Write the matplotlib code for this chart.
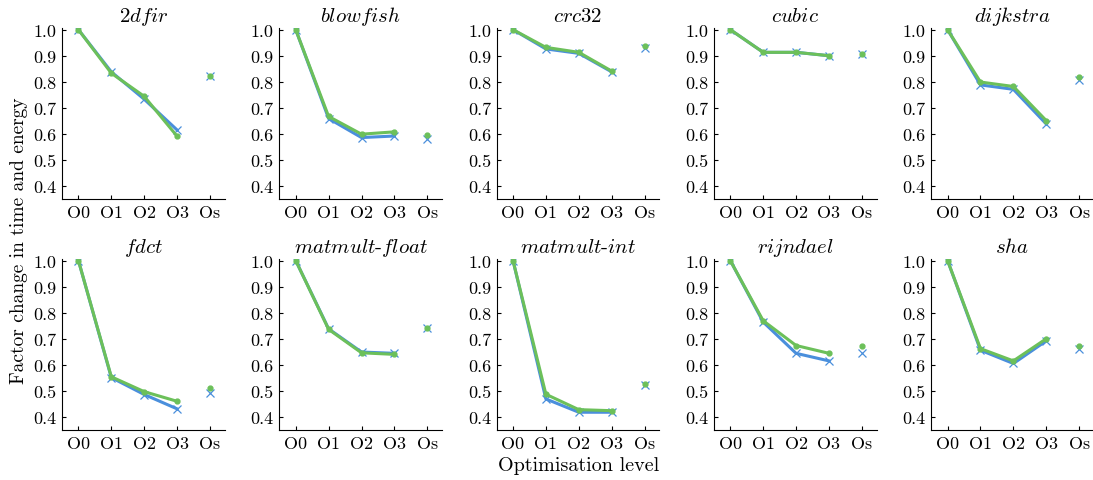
import numpy as np
import matplotlib
matplotlib.use('Agg')
import matplotlib.pyplot as plt

plt.rcParams['font.family'] = 'serif'
plt.rcParams['font.serif'] = ['cmr10', 'DejaVu Serif']
plt.rcParams['mathtext.fontset'] = 'cm'
plt.rcParams['axes.formatter.use_mathtext'] = True

levels = ['O0', 'O1', 'O2', 'O3', 'Os']
benchmarks = ['2dfir', 'blowfish', 'crc32', 'cubic', 'dijkstra',
              'fdct', 'matmult-float', 'matmult-int', 'rijndael', 'sha']

# factor change per level O0, O1, O2, O3, Os
time_vals = [
    [1.0, 0.838, 0.733, 0.615, 0.822],
    [1.0, 0.659, 0.586, 0.592, 0.579],
    [1.0, 0.926, 0.909, 0.838, 0.929],
    [1.0, 0.913, 0.913, 0.900, 0.906],
    [1.0, 0.788, 0.771, 0.638, 0.805],
    [1.0, 0.551, 0.486, 0.431, 0.491],
    [1.0, 0.738, 0.649, 0.644, 0.742],
    [1.0, 0.469, 0.418, 0.418, 0.521],
    [1.0, 0.764, 0.644, 0.615, 0.644],
    [1.0, 0.656, 0.605, 0.692, 0.662],
]
energy_vals = [
    [1.0, 0.833, 0.744, 0.591, 0.822],
    [1.0, 0.667, 0.599, 0.608, 0.595],
    [1.0, 0.932, 0.913, 0.841, 0.938],
    [1.0, 0.913, 0.913, 0.900, 0.906],
    [1.0, 0.799, 0.782, 0.651, 0.817],
    [1.0, 0.554, 0.497, 0.460, 0.510],
    [1.0, 0.736, 0.646, 0.640, 0.742],
    [1.0, 0.487, 0.428, 0.424, 0.528],
    [1.0, 0.769, 0.674, 0.644, 0.674],
    [1.0, 0.662, 0.615, 0.700, 0.674],
]

blue = '#4a8fdc'
green = '#6cc05a'

fig = plt.figure(figsize=(10.93, 4.81), dpi=100)
x = np.arange(len(levels))

def title_text(name):
    parts = name.split('-')
    return '-'.join(r'$\mathit{%s}$' % p for p in parts)

for i, name in enumerate(benchmarks):
    row, col = divmod(i, 5)
    left = 0.0567 + col * 0.1988
    bottom = 0.584 if row == 0 else 0.104
    ax = fig.add_axes([left, bottom, 0.149, 0.355])
    t = time_vals[i]
    e = energy_vals[i]
    ax.plot(x[:4], t[:4], color=blue, lw=2.2, marker='x', ms=6, mew=0.9)
    ax.plot(x[4:], t[4:], color=blue, lw=0, marker='x', ms=6, mew=0.9)
    ax.plot(x[:4], e[:4], color=green, lw=2.2, marker='.', ms=7)
    ax.plot(x[4:], e[4:], color=green, lw=0, marker='.', ms=7)
    ax.set_xlim(-0.5, 4.45)
    ax.set_ylim(0.35, 1.005)
    ax.set_xticks(x)
    ax.set_xticklabels(levels)
    ax.set_yticks([0.4, 0.5, 0.6, 0.7, 0.8, 0.9, 1.0])
    ax.set_yticklabels(['0.4', '0.5', '0.6', '0.7', '0.8', '0.9', '1.0'])
    ax.spines['top'].set_visible(False)
    ax.spines['right'].set_visible(False)
    ax.tick_params(direction='in', length=3, labelsize=13, pad=4)
    ax.set_title(title_text(name), fontsize=15, pad=5)

fig.text(0.017, 0.5, 'Factor change in time and energy', rotation=90,
         va='center', ha='center', fontsize=14)
fig.text(0.529, 0.031, 'Optimisation level', ha='center', va='center', fontsize=14.5)

fig.savefig('out.png', dpi=100)
